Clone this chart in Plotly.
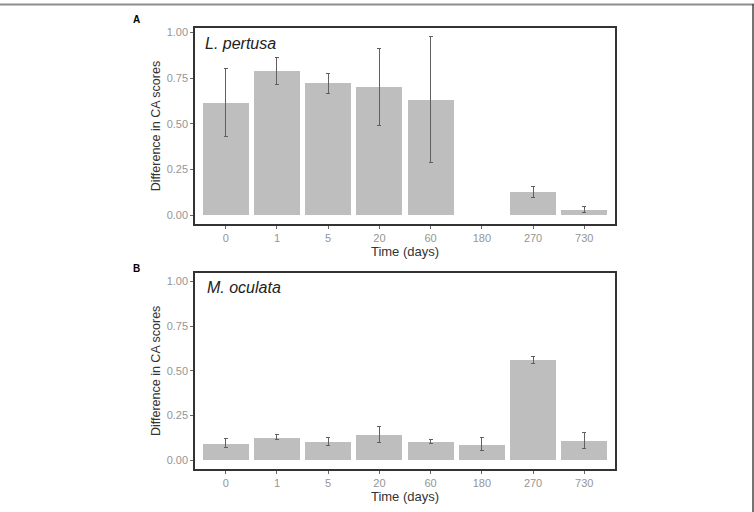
import plotly.graph_objects as go
from plotly.subplots import make_subplots

days = ["0", "1", "5", "20", "60", "180", "270", "730"]

# Panel A: L. pertusa
a_mean = [0.615, 0.786, 0.721, 0.701, 0.631, None, 0.124, 0.027]
a_low = [0.432, 0.717, 0.664, 0.493, 0.288, None, 0.097, 0.016]
a_high = [0.803, 0.861, 0.777, 0.912, 0.978, None, 0.159, 0.046]

# Panel B: M. oculata
b_mean = [0.092, 0.127, 0.103, 0.142, 0.103, 0.088, 0.562, 0.110]
b_low = [0.069, 0.118, 0.081, 0.096, 0.094, 0.051, 0.539, 0.064]
b_high = [0.122, 0.144, 0.125, 0.189, 0.114, 0.127, 0.581, 0.155]

y_ticks = [0, 0.25, 0.5, 0.75, 1.0]

W, H = 754, 512
L, R, T, B = 195, 139, 28, 43
PW, PH = W - L - R, H - T - B


def px_x(p):
    return (p - L) / PW


def px_y(p):
    return (H - B - p) / PH


def errs(mean, low, high):
    up = [None if m is None else h - m for m, h in zip(mean, high)]
    dn = [None if m is None else m - l for m, l in zip(mean, low)]
    return up, dn


fig = make_subplots(rows=2, cols=1)

for row, (mean, low, high) in enumerate([(a_mean, a_low, a_high), (b_mean, b_low, b_high)], start=1):
    up, dn = errs(mean, low, high)
    fig.add_trace(go.Bar(
        x=days, y=mean, width=0.9,
        marker=dict(color="#BEBEBE", line=dict(width=0)),
        error_y=dict(type="data", symmetric=False, array=up, arrayminus=dn,
                     color="#606060", thickness=1, width=2),
        showlegend=False, hoverinfo="skip",
    ), row=row, col=1)

fig.update_layout(
    width=W, height=H,
    margin=dict(l=L, r=R, t=T, b=B, pad=0),
    paper_bgcolor="white", plot_bgcolor="white",
    font=dict(family="Liberation Sans, Arial, sans-serif", color="#333333"),
    bargap=0,
)

dom_a = [px_y(224), 1.0]
dom_b = [0.0, px_y(272.7)]

axis_common = dict(showline=True, linecolor="#333333", linewidth=1.5, mirror=True,
                   showgrid=False, zeroline=False, ticks="outside", ticklen=3,
                   tickcolor="#666666", tickfont=dict(size=11, color="#959595"))

fig.update_xaxes(type="category", categoryorder="array", categoryarray=days,
                 range=[-0.6, 7.6], domain=[0, 1],
                 title=dict(text="Time (days)", font=dict(size=13, color="#333333"), standoff=1),
                 **axis_common)
fig.update_yaxes(tickvals=y_ticks, tickformat=".2f",
                 title=dict(text="Difference in CA scores", font=dict(size=12.5, color="#333333"), standoff=3),
                 **axis_common)
fig.update_yaxes(range=[-0.049, 1.024], domain=dom_a, row=1, col=1)
fig.update_yaxes(range=[-0.05, 1.05], domain=dom_b, row=2, col=1)
fig.update_xaxes(anchor="y", row=1, col=1)
fig.update_xaxes(anchor="y2", row=2, col=1)

annots = [
    dict(text="<b>A</b>", x=px_x(131), y=px_y(20), xanchor="left", yanchor="middle",
         font=dict(size=10, color="#000000")),
    dict(text="<b>B</b>", x=px_x(131), y=px_y(268), xanchor="left", yanchor="middle",
         font=dict(size=10, color="#000000")),
    dict(text="<i>L. pertusa</i>", x=px_x(203), y=px_y(43), xanchor="left", yanchor="middle",
         font=dict(size=16, color="#222222")),
    dict(text="<i>M. oculata</i>", x=px_x(205), y=px_y(287), xanchor="left", yanchor="middle",
         font=dict(size=16, color="#222222")),
]
for a in annots:
    a.update(xref="paper", yref="paper", showarrow=False)
fig.update_layout(annotations=annots)

fig.update_layout(shapes=[
    dict(type="line", xref="paper", yref="paper", x0=px_x(0), x1=px_x(754), y0=px_y(4.5), y1=px_y(4.5),
         line=dict(color="#8c8c8c", width=2)),
    dict(type="line", xref="paper", yref="paper", x0=px_x(753), x1=px_x(753), y0=px_y(4), y1=px_y(512),
         line=dict(color="#444444", width=1.5)),
])

fig.write_html("out.html")
